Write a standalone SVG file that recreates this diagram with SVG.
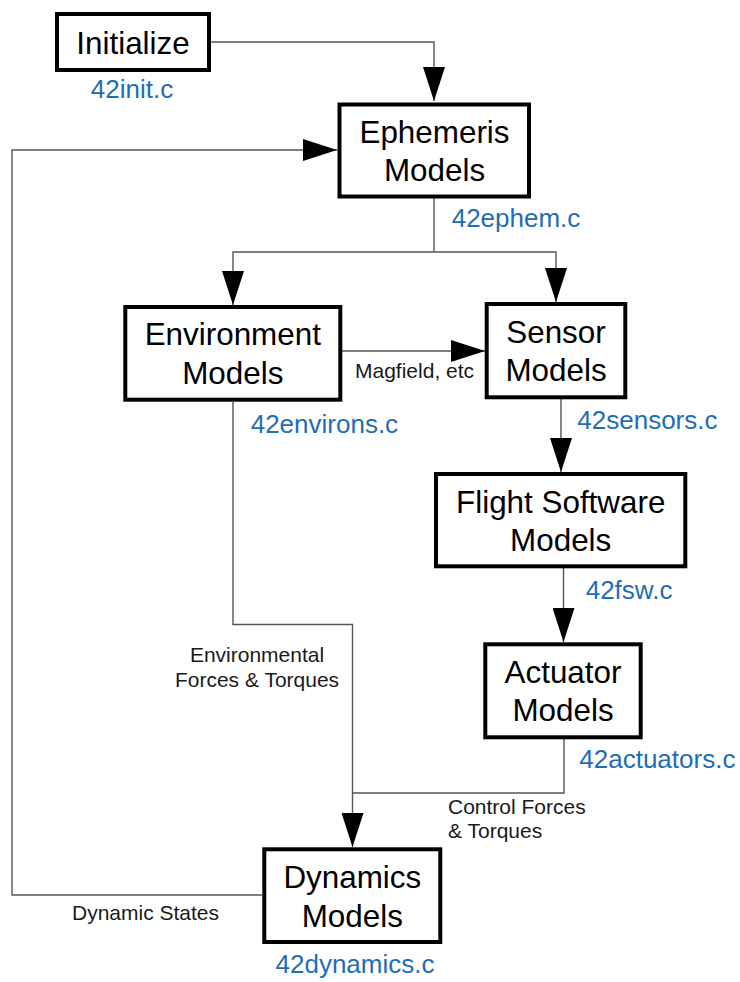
<svg xmlns="http://www.w3.org/2000/svg" width="740" height="982" viewBox="0 0 740 982">
  <style>
    .box { fill: #ffffff; stroke: #000000; stroke-width: 4; }
    .title { font-family: "Liberation Sans", Arial, sans-serif; font-size: 31.4px; fill: #000000; text-anchor: middle; }
    .file { font-family: "Liberation Sans", Arial, sans-serif; font-size: 26px; fill: #1f6db4; }
    .note { font-family: "Liberation Sans", Arial, sans-serif; font-size: 21px; fill: #1a1a1a; }
    .wire { fill: none; stroke: #555555; stroke-width: 1.4; }
  </style>
  <defs>
    <marker id="head" markerUnits="userSpaceOnUse" markerWidth="34" markerHeight="22" refX="34" refY="11" orient="auto">
      <path d="M0,0 L34,11 L0,22 Z" fill="#000000"/>
    </marker>
  </defs>
  <rect width="740" height="982" fill="#ffffff"/>

  <!-- connectors -->
  <g id="connectors">
    <path class="wire" d="M211,42 H434 V101" marker-end="url(#head)"/>
    <path class="wire" d="M262,895 H12 V150 H337" marker-end="url(#head)"/>
    <path class="wire" d="M434,198 V252"/>
    <path class="wire" d="M434,252 H233 V305" marker-end="url(#head)"/>
    <path class="wire" d="M434,252 H556 V302" marker-end="url(#head)"/>
    <path class="wire" d="M342,351 H485" marker-end="url(#head)"/>
    <path class="wire" d="M561,399 V472" marker-end="url(#head)"/>
    <path class="wire" d="M563.5,568 V642" marker-end="url(#head)"/>
    <path class="wire" d="M233,402 V624.5 H352.5 V847" marker-end="url(#head)"/>
    <path class="wire" d="M564,739 V793 H352.5"/>
    <text class="note" x="355" y="378">Magfield, etc</text>
    <text class="note" x="257" y="662" text-anchor="middle">Environmental</text>
    <text class="note" x="257" y="686.5" text-anchor="middle">Forces &amp; Torques</text>
    <text class="note" x="448" y="814">Control Forces</text>
    <text class="note" x="448" y="838">&amp; Torques</text>
    <text class="note" x="72" y="919.5">Dynamic States</text>
  </g>

  <!-- nodes -->
  <g id="initialize">
    <rect class="box" x="57" y="14" width="152" height="56"/>
    <text class="title" x="133" y="54">Initialize</text>
    <text class="file" x="132" y="98" text-anchor="middle">42init.c</text>
  </g>

  <g id="ephemeris">
    <rect class="box" x="339.5" y="104.5" width="189.5" height="92"/>
    <text class="title" x="434.5" y="143.3">Ephemeris</text>
    <text class="title" x="434.5" y="180.7">Models</text>
    <text class="file" x="451.7" y="227.3">42ephem.c</text>
  </g>

  <g id="environment">
    <rect class="box" x="125.3" y="307" width="215" height="92.7"/>
    <text class="title" x="232.8" y="345">Environment</text>
    <text class="title" x="232.8" y="384">Models</text>
    <text class="file" x="250.7" y="433.3">42environs.c</text>
  </g>

  <g id="sensor">
    <rect class="box" x="486.7" y="304" width="138.6" height="93.3"/>
    <text class="title" x="556" y="343.3">Sensor</text>
    <text class="title" x="556" y="380.7">Models</text>
    <text class="file" x="577.3" y="429.3">42sensors.c</text>
  </g>

  <g id="flight-software">
    <rect class="box" x="436" y="474" width="249.3" height="92.3"/>
    <text class="title" x="560.7" y="512.7">Flight Software</text>
    <text class="title" x="560.7" y="550.7">Models</text>
    <text class="file" x="585.7" y="599.3">42fsw.c</text>
  </g>

  <g id="actuator">
    <rect class="box" x="485.3" y="644.3" width="155.4" height="93"/>
    <text class="title" x="563" y="683.3">Actuator</text>
    <text class="title" x="563" y="720.7">Models</text>
    <text class="file" x="579.3" y="768.3">42actuators.c</text>
  </g>

  <g id="dynamics">
    <rect class="box" x="264.3" y="849.3" width="176" height="92.7"/>
    <text class="title" x="352.3" y="888.3">Dynamics</text>
    <text class="title" x="352.3" y="926.7">Models</text>
    <text class="file" x="355" y="973.3" text-anchor="middle">42dynamics.c</text>
  </g>
</svg>
